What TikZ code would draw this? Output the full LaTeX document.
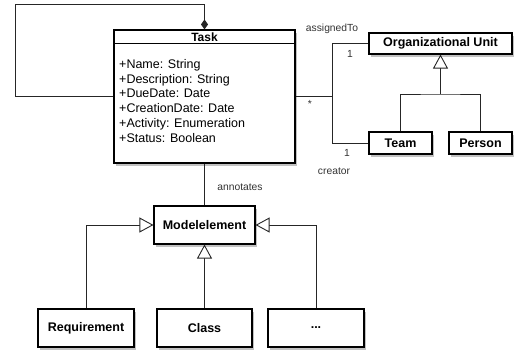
\documentclass[tikz,border=0pt]{standalone}
\usepackage{fontspec}
\setmainfont{Liberation Sans}
\usetikzlibrary{arrows.meta,shadows,calc}
\begin{document}
\begin{tikzpicture}[x=1pt,y=-1pt,
  umlbox/.style={draw=black,line width=1.1pt,fill=white,inner sep=0pt,
    drop shadow={shadow xshift=1.5pt,shadow yshift=-3pt,opacity=0.35,fill=black!70},
    font=\fontsize{12.5}{14}\selectfont\bfseries},
  conn/.style={line width=0.9pt,draw=black!85},
  gen/.style={conn,-{Triangle[open,length=14pt,width=15pt,fill=white,line width=0.9pt]}},
  lbl/.style={font=\fontsize{10.3}{12}\selectfont,inner sep=0pt,text=black!80}]
\useasboundingbox (0,0) rectangle (520,354);
% Task class
\node[umlbox,minimum width=181pt,minimum height=133pt] (task) at (204.5,96.5) {};
\node[font=\fontsize{12}{14}\selectfont\bfseries,inner sep=0pt] (tasktitle) at (204.5,37) {Task};
\draw[line width=1pt] ($(task.north west)+(0,14.5)$) -- ($(task.north east)+(0,14.5)$);
\node[anchor=north west,align=left,inner sep=0pt,font=\fontsize{12.5}{14.8}\selectfont] (attrs) at (119,59)
 {+Name: String\\+Description: String\\+DueDate: Date\\+CreationDate: Date\\+Activity: Enumeration\\+Status: Boolean};
% other classes
\node[umlbox,minimum width=143pt,minimum height=21pt] (org) at (440.5,43.5) {Organizational Unit};
\node[umlbox,minimum width=63pt,minimum height=22pt] (team) at (400.5,143) {Team};
\node[umlbox,minimum width=63pt,minimum height=22pt] (person) at (480.5,143) {Person};
\node[umlbox,minimum width=101pt,minimum height=38pt] (me) at (204.5,225) {Modelelement};
\node[umlbox,minimum width=96pt,minimum height=38pt] (req) at (86,328) {Requirement};
\node[umlbox,minimum width=95pt,minimum height=38pt] (cls) at (204.5,328) {Class};
\node[umlbox,minimum width=96pt,minimum height=38pt] (dots) at (316,328) {...};
% self association (composition)
\coordinate (s1) at (15,4);
\draw[conn,{Diamond[length=10pt,width=7pt]}-] (task.north) |- (s1) |- (task.west);
% association to org unit / team
\coordinate (j) at (332,96.5);
\draw[conn] (task.east) -- (j) |- (org.west);
\draw[conn] (j) |- (team.west);
% generalization org
\coordinate (g) at (440.5,94);
\draw[conn] (team.north) |- (g) -| (person.north);
\draw[gen] (g) -- (org.south);
% annotates
\draw[conn] (task.south) -- (me.north);
% generalizations modelelement
\draw[gen] (req.north) |- (me.west);
\draw[gen] (cls.north) -- (me.south);
\draw[gen] (dots.north) |- (me.east);
% labels
\node[lbl] (l1) at (332,28.5) {assignedTo};
\node[lbl] (l2) at (350,53.5) {1};
\node[lbl] (l3) at (310,104) {*};
\node[lbl] (l4) at (347,153) {1};
\node[lbl] (l5) at (334,171) {creator};
\node[lbl] (l6) at (240,187.5) {annotates};
\end{tikzpicture}
\end{document}
